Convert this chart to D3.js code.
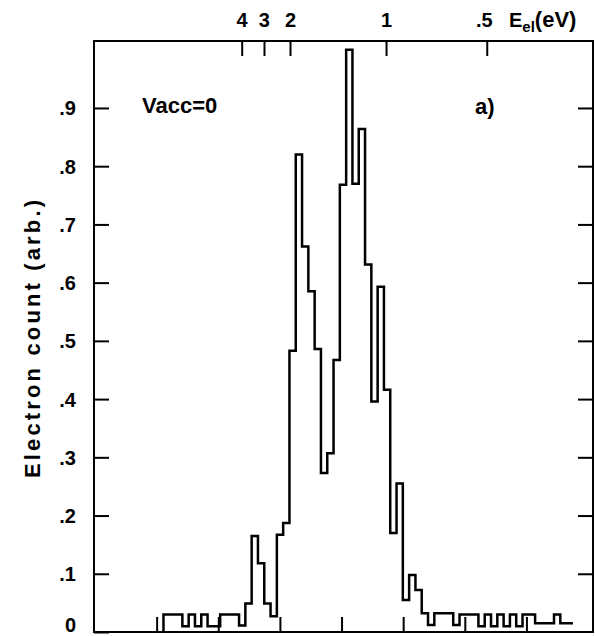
<!DOCTYPE html>
<html>
<head>
<meta charset="utf-8">
<script src="https://cdn.jsdelivr.net/npm/d3@7"></script>
<style>
  html, body { margin: 0; padding: 0; background: #fff; }
  svg { display: block; }
  text { font-family: "Liberation Sans", Arial, sans-serif; font-weight: bold; fill: #000; }
</style>
</head>
<body>
<svg id="chart" width="595" height="636"></svg>
<script>
// ---- data ----
// histogram of electron counts; bins of equal width along the time axis
const binStart = 1.111;      // time-axis position of the first bin edge
const binWidth = 0.1022;     // width of each bin (time-axis units)
const counts = [
  0.03, 0.03, 0.03, 0.01, 0.03, 0.01, 0.03, 0.01, 0.01, 0.03,
  0.03, 0.03, 0.011, 0.049, 0.165, 0.118, 0.049, 0.027, 0.167, 0.187,
  0.483, 0.82, 0.662, 0.585, 0.486, 0.273, 0.307, 0.467, 0.768, 1.0,
  0.77, 0.864, 0.631, 0.396, 0.593, 0.416, 0.17, 0.255, 0.055, 0.098,
  0.072, 0.032, 0.012, 0.032, 0.032, 0.032, 0.012, 0.03, 0.03, 0.03,
  0.01, 0.03, 0.01, 0.03, 0.01, 0.03, 0.01, 0.03, 0.03, 0.015,
  0.015, 0.015, 0.03, 0.015, 0.015
];
const yTickValues = [0, 0.1, 0.2, 0.3, 0.4, 0.5, 0.6, 0.7, 0.8, 0.9];
const yTickLabels = ["0", ".1", ".2", ".3", ".4", ".5", ".6", ".7", ".8", ".9"];
const bottomTickValues = [1, 2, 3, 4, 5, 6, 7];
const energyLabels = ["4", "3", "2", "1", ".5"];
const energyPositions = [2.38, 2.742, 3.164, 4.722, 6.356]; // on the time axis
const yTitle = "Electron count  (arb.)";
const annotation = "Vacc=0";
const panelLabel = "a)";

// ---- layout ----
const plotL = 94, plotR = 593, plotT = 41, plotB = 632;
const tickLen = 15;

const svg = d3.select("#chart");
const x = d3.scaleLinear().domain([0, 8.08]).range([95, plotR]);
const y = d3.scaleLinear().domain([0, 1.015]).range([plotB, plotT]);

// frame
svg.append("rect")
  .attr("x", plotL).attr("y", plotT)
  .attr("width", plotR - plotL).attr("height", plotB - plotT)
  .attr("fill", "none").attr("stroke", "#000").attr("stroke-width", 2);

function styleAxis(g, size) {
  g.select(".domain").remove();
  g.selectAll(".tick line").attr("stroke", "#000").attr("stroke-width", 2);
  g.selectAll("text").attr("font-size", size || 20)
    .attr("font-family", "'Liberation Sans', Arial, sans-serif")
    .attr("font-weight", "bold").attr("fill", "#000");
}

// left axis with labels
const leftAxis = svg.append("g").attr("transform", `translate(${plotL},0)`)
  .call(d3.axisLeft(y).tickValues(yTickValues).tickSize(-tickLen).tickPadding(18)
    .tickFormat((d, i) => yTickLabels[i]))
  .call(styleAxis, 20);
leftAxis.selectAll(".tick text").attr("dy", d => d === 0 ? "-0.05em" : "0.35em");

// right axis ticks
svg.append("g").attr("transform", `translate(${plotR},0)`)
  .call(d3.axisRight(y).tickValues(yTickValues.filter(v => v > 0)).tickSize(-tickLen).tickFormat(""))
  .call(styleAxis);

// bottom axis ticks (no labels)
svg.append("g").attr("transform", `translate(0,${plotB})`)
  .call(d3.axisBottom(x).tickValues(bottomTickValues).tickSize(-tickLen).tickFormat(""))
  .call(styleAxis);

// top energy axis
const topAxis = svg.append("g").attr("transform", `translate(0,${plotT})`)
  .call(d3.axisTop(x).tickValues(energyPositions).tickSize(-tickLen).tickPadding(14)
    .tickFormat((d, i) => energyLabels[i]))
  .call(styleAxis, 20);
topAxis.selectAll("text").attr("text-anchor", "end").attr("dx", 5.5);

// axis title on top
const et = svg.append("text").attr("x", 509).attr("y", 27).attr("font-size", 20);
et.append("tspan").text("E");
et.append("tspan").attr("font-size", 15).attr("dy", 5).text("el");
et.append("tspan").attr("dy", -5).attr("font-size", 22).text("(eV)");

// y title
svg.append("text")
  .attr("transform", `translate(40,339) rotate(-90)`)
  .attr("text-anchor", "middle").attr("font-size", 22)
  .attr("textLength", 278).attr("lengthAdjust", "spacing")
  .text(yTitle);

// annotations
svg.append("text").attr("x", 142).attr("y", 113).attr("font-size", 22).text(annotation);
svg.append("text").attr("x", 475).attr("y", 114).attr("font-size", 22).text(panelLabel);

// histogram
const pts = [[binStart, 0]];
counts.forEach((v, i) => pts.push([binStart + i * binWidth, v]));
pts.push([binStart + counts.length * binWidth, counts[counts.length - 1]]);
svg.append("path")
  .attr("d", d3.line().x(d => x(d[0])).y(d => y(d[1])).curve(d3.curveStepAfter)(pts))
  .attr("fill", "none").attr("stroke", "#000").attr("stroke-width", 2.5)
  .attr("stroke-linejoin", "miter");
</script>
</body>
</html>
